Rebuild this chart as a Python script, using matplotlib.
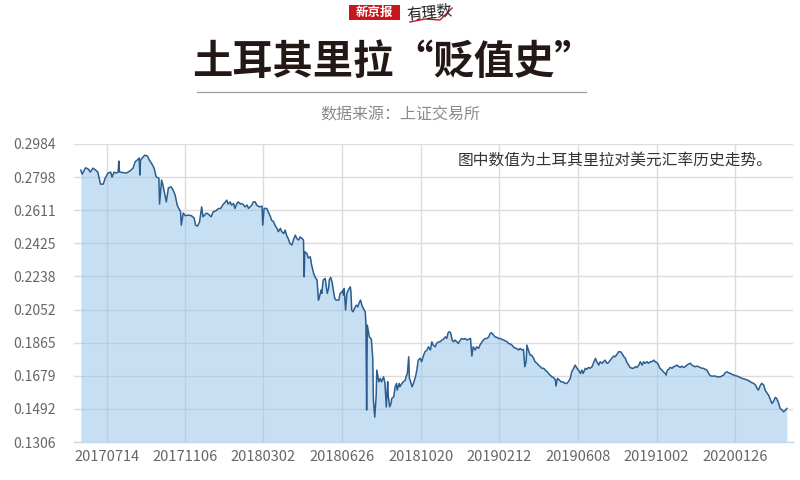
import matplotlib
matplotlib.use("Agg")
import matplotlib.pyplot as plt
import pandas as pd
from matplotlib.lines import Line2D
from matplotlib.patches import Rectangle

plt.rcParams['font.family'] = ['Noto Sans CJK SC', 'DejaVu Sans']

# ---------------- data (TRY / USD exchange rate) ----------------
dates = [
    '2017-06-06', '2017-06-08', '2017-06-13', '2017-06-17', '2017-06-20', '2017-06-24', '2017-06-28', '2017-07-01',
    '2017-07-05', '2017-07-09', '2017-07-12', '2017-07-16', '2017-07-20', '2017-07-22', '2017-07-25', '2017-07-28',
    '2017-07-31', '2017-08-01', '2017-08-02', '2017-08-07', '2017-08-12', '2017-08-17', '2017-08-22', '2017-08-25',
    '2017-08-28', '2017-08-31', '2017-09-01', '2017-09-02', '2017-09-06', '2017-09-08', '2017-09-12', '2017-09-15',
    '2017-09-18', '2017-09-22', '2017-09-25', '2017-09-29', '2017-09-30', '2017-10-03', '2017-10-05', '2017-10-08',
    '2017-10-10', '2017-10-13', '2017-10-17', '2017-10-20', '2017-10-23', '2017-10-26', '2017-10-28', '2017-10-31',
    '2017-11-01', '2017-11-04', '2017-11-07', '2017-11-11', '2017-11-16', '2017-11-20', '2017-11-22', '2017-11-25',
    '2017-11-28', '2017-12-01', '2017-12-03', '2017-12-08', '2017-12-11', '2017-12-15', '2017-12-18', '2017-12-22',
    '2017-12-26', '2017-12-29', '2018-01-01', '2018-01-05', '2018-01-07', '2018-01-09', '2018-01-12', '2018-01-14',
    '2018-01-17', '2018-01-19', '2018-01-22', '2018-01-24', '2018-01-27', '2018-01-29', '2018-02-01', '2018-02-03',
    '2018-02-06', '2018-02-08', '2018-02-10', '2018-02-13', '2018-02-15', '2018-02-18', '2018-02-20', '2018-02-24',
    '2018-02-28', '2018-03-01', '2018-03-03', '2018-03-07', '2018-03-09', '2018-03-12', '2018-03-14', '2018-03-17',
    '2018-03-19', '2018-03-22', '2018-03-24', '2018-03-27', '2018-03-29', '2018-04-01', '2018-04-03', '2018-04-05',
    '2018-04-08', '2018-04-10', '2018-04-13', '2018-04-15', '2018-04-18', '2018-04-20', '2018-04-23', '2018-04-25',
    '2018-04-28', '2018-04-30', '2018-05-01', '2018-05-02', '2018-05-05', '2018-05-07', '2018-05-10', '2018-05-12',
    '2018-05-15', '2018-05-17', '2018-05-20', '2018-05-22', '2018-05-23', '2018-05-26', '2018-05-27', '2018-05-29',
    '2018-06-01', '2018-06-02', '2018-06-04', '2018-06-06', '2018-06-07', '2018-06-09', '2018-06-11', '2018-06-13',
    '2018-06-15', '2018-06-17', '2018-06-21', '2018-06-23', '2018-06-26', '2018-06-27', '2018-06-28', '2018-06-29',
    '2018-07-01', '2018-07-03', '2018-07-05', '2018-07-08', '2018-07-09', '2018-07-10', '2018-07-12', '2018-07-14',
    '2018-07-17', '2018-07-19', '2018-07-21', '2018-07-23', '2018-07-25', '2018-07-27', '2018-07-30', '2018-07-31',
    '2018-08-01', '2018-08-02', '2018-08-05', '2018-08-08', '2018-08-10', '2018-08-11', '2018-08-13', '2018-08-15',
    '2018-08-16', '2018-08-18', '2018-08-19', '2018-08-21', '2018-08-23', '2018-08-26', '2018-08-28', '2018-08-30',
    '2018-09-01', '2018-09-02', '2018-09-04', '2018-09-06', '2018-09-07', '2018-09-10', '2018-09-12', '2018-09-14',
    '2018-09-15', '2018-09-18', '2018-09-19', '2018-09-22', '2018-09-24', '2018-09-27', '2018-09-28', '2018-09-30',
    '2018-10-02', '2018-10-03', '2018-10-04', '2018-10-07', '2018-10-09', '2018-10-12', '2018-10-14', '2018-10-16',
    '2018-10-19', '2018-10-21', '2018-10-24', '2018-10-26', '2018-10-29', '2018-10-31', '2018-11-03', '2018-11-05',
    '2018-11-07', '2018-11-10', '2018-11-12', '2018-11-15', '2018-11-17', '2018-11-20', '2018-11-22', '2018-11-25',
    '2018-11-27', '2018-11-29', '2018-12-01', '2018-12-03', '2018-12-05', '2018-12-07', '2018-12-09', '2018-12-12',
    '2018-12-14', '2018-12-17', '2018-12-19', '2018-12-22', '2018-12-24', '2018-12-27', '2018-12-29', '2019-01-01',
    '2019-01-03', '2019-01-05', '2019-01-08', '2019-01-10', '2019-01-13', '2019-01-15', '2019-01-18', '2019-01-20',
    '2019-01-23', '2019-01-25', '2019-01-28', '2019-01-30', '2019-02-01', '2019-02-04', '2019-02-06', '2019-02-09',
    '2019-02-11', '2019-02-14', '2019-02-16', '2019-02-19', '2019-02-21', '2019-02-24', '2019-02-26', '2019-03-01',
    '2019-03-03', '2019-03-05', '2019-03-08', '2019-03-10', '2019-03-13', '2019-03-15', '2019-03-18', '2019-03-20',
    '2019-03-22', '2019-03-24', '2019-03-25', '2019-03-28', '2019-03-30', '2019-04-01', '2019-04-04', '2019-04-06',
    '2019-04-09', '2019-04-11', '2019-04-14', '2019-04-16', '2019-04-19', '2019-04-21', '2019-04-24', '2019-04-26',
    '2019-04-28', '2019-05-01', '2019-05-03', '2019-05-06', '2019-05-07', '2019-05-09', '2019-05-12', '2019-05-14',
    '2019-05-17', '2019-05-20', '2019-05-23', '2019-05-25', '2019-05-28', '2019-05-30', '2019-06-02', '2019-06-04',
    '2019-06-07', '2019-06-09', '2019-06-12', '2019-06-14', '2019-06-16', '2019-06-19', '2019-06-21', '2019-06-24',
    '2019-06-26', '2019-06-29', '2019-07-01', '2019-07-04', '2019-07-06', '2019-07-09', '2019-07-11', '2019-07-14',
    '2019-07-16', '2019-07-18', '2019-07-21', '2019-07-23', '2019-07-26', '2019-07-28', '2019-07-31', '2019-08-02',
    '2019-08-05', '2019-08-07', '2019-08-10', '2019-08-12', '2019-08-15', '2019-08-17', '2019-08-19', '2019-08-22',
    '2019-08-24', '2019-08-27', '2019-08-29', '2019-09-01', '2019-09-03', '2019-09-06', '2019-09-08', '2019-09-11',
    '2019-09-13', '2019-09-15', '2019-09-18', '2019-09-20', '2019-09-23', '2019-09-25', '2019-09-28', '2019-09-30',
    '2019-10-03', '2019-10-05', '2019-10-07', '2019-10-10', '2019-10-12', '2019-10-15', '2019-10-16', '2019-10-18',
    '2019-10-20', '2019-10-22', '2019-10-25', '2019-10-27', '2019-10-30', '2019-11-01', '2019-11-03', '2019-11-06',
    '2019-11-08', '2019-11-11', '2019-11-13', '2019-11-16', '2019-11-18', '2019-11-21', '2019-11-23', '2019-11-26',
    '2019-11-28', '2019-12-01', '2019-12-03', '2019-12-05', '2019-12-08', '2019-12-10', '2019-12-13', '2019-12-15',
    '2019-12-18', '2019-12-20', '2019-12-23', '2019-12-25', '2019-12-28', '2019-12-30', '2020-01-01', '2020-01-04',
    '2020-01-06', '2020-01-09', '2020-01-11', '2020-01-14', '2020-01-16', '2020-01-19', '2020-01-21', '2020-01-24',
    '2020-01-26', '2020-01-29', '2020-01-31', '2020-02-02', '2020-02-05', '2020-02-07', '2020-02-10', '2020-02-12',
    '2020-02-15', '2020-02-17', '2020-02-20', '2020-02-22', '2020-02-25', '2020-02-27', '2020-02-29', '2020-03-03',
    '2020-03-05', '2020-03-08', '2020-03-10', '2020-03-13', '2020-03-15', '2020-03-18', '2020-03-20', '2020-03-22',
    '2020-03-25', '2020-03-27', '2020-03-30', '2020-04-01', '2020-04-04', '2020-04-06', '2020-04-09', '2020-04-11',
]

rates = [
    0.2837, 0.2814, 0.2850, 0.2843, 0.2826, 0.2848, 0.2837, 0.2826,
    0.2758, 0.2758, 0.2792, 0.2820, 0.2826, 0.2797, 0.2826, 0.2820,
    0.2826, 0.2888, 0.2826, 0.2823, 0.2820, 0.2831, 0.2848, 0.2884,
    0.2893, 0.2905, 0.2809, 0.2893, 0.2912, 0.2921, 0.2917, 0.2893,
    0.2876, 0.2848, 0.2799, 0.2792, 0.2646, 0.2781, 0.2752, 0.2696,
    0.2658, 0.2736, 0.2743, 0.2724, 0.2696, 0.2640, 0.2623, 0.2602,
    0.2527, 0.2595, 0.2580, 0.2584, 0.2580, 0.2567, 0.2527, 0.2522,
    0.2546, 0.2630, 0.2574, 0.2595, 0.2589, 0.2574, 0.2602, 0.2608,
    0.2621, 0.2621, 0.2640, 0.2658, 0.2668, 0.2646, 0.2658, 0.2640,
    0.2649, 0.2621, 0.2649, 0.2658, 0.2646, 0.2649, 0.2640, 0.2630,
    0.2640, 0.2621, 0.2629, 0.2640, 0.2658, 0.2658, 0.2640, 0.2630,
    0.2634, 0.2527, 0.2621, 0.2621, 0.2602, 0.2578, 0.2555, 0.2546,
    0.2527, 0.2509, 0.2490, 0.2509, 0.2490, 0.2480, 0.2499, 0.2471,
    0.2447, 0.2424, 0.2415, 0.2443, 0.2471, 0.2452, 0.2443, 0.2461,
    0.2452, 0.2443, 0.2236, 0.2377, 0.2368, 0.2342, 0.2349, 0.2302,
    0.2255, 0.2236, 0.2218, 0.2105, 0.2115, 0.2161, 0.2143, 0.2218,
    0.2227, 0.2199, 0.2143, 0.2171, 0.2218, 0.2233, 0.2208, 0.2161,
    0.2115, 0.2105, 0.2105, 0.2143, 0.2152, 0.2161, 0.2133, 0.2171,
    0.2049, 0.2143, 0.2161, 0.2180, 0.2143, 0.2049, 0.2039, 0.2058,
    0.2077, 0.2067, 0.2090, 0.2105, 0.2077, 0.2058, 0.2039, 0.1964,
    0.1486, 0.1964, 0.1898, 0.1885, 0.1779, 0.1542, 0.1446, 0.1561,
    0.1711, 0.1664, 0.1645, 0.1664, 0.1645, 0.1673, 0.1636, 0.1503,
    0.1645, 0.1561, 0.1504, 0.1523, 0.1551, 0.1561, 0.1617, 0.1636,
    0.1598, 0.1636, 0.1617, 0.1636, 0.1645, 0.1655, 0.1673, 0.1692,
    0.1786, 0.1664, 0.1655, 0.1617, 0.1636, 0.1673, 0.1711, 0.1767,
    0.1777, 0.1758, 0.1795, 0.1814, 0.1824, 0.1842, 0.1824, 0.1870,
    0.1852, 0.1842, 0.1861, 0.1870, 0.1870, 0.1880, 0.1884, 0.1898,
    0.1889, 0.1921, 0.1927, 0.1918, 0.1880, 0.1870, 0.1880, 0.1870,
    0.1861, 0.1880, 0.1889, 0.1884, 0.1889, 0.1880, 0.1884, 0.1889,
    0.1790, 0.1842, 0.1824, 0.1842, 0.1833, 0.1852, 0.1870, 0.1880,
    0.1889, 0.1889, 0.1898, 0.1918, 0.1921, 0.1908, 0.1898, 0.1895,
    0.1889, 0.1889, 0.1884, 0.1880, 0.1876, 0.1870, 0.1861, 0.1857,
    0.1852, 0.1842, 0.1833, 0.1833, 0.1824, 0.1833, 0.1824, 0.1827,
    0.1730, 0.1758, 0.1852, 0.1814, 0.1795, 0.1795, 0.1777, 0.1758,
    0.1749, 0.1739, 0.1730, 0.1721, 0.1721, 0.1711, 0.1701, 0.1692,
    0.1683, 0.1673, 0.1670, 0.1655, 0.1621, 0.1664, 0.1655, 0.1645,
    0.1645, 0.1636, 0.1636, 0.1645, 0.1664, 0.1701, 0.1721, 0.1739,
    0.1721, 0.1711, 0.1692, 0.1711, 0.1692, 0.1721, 0.1715, 0.1726,
    0.1721, 0.1730, 0.1749, 0.1777, 0.1758, 0.1739, 0.1758, 0.1749,
    0.1758, 0.1767, 0.1749, 0.1752, 0.1767, 0.1777, 0.1790, 0.1786,
    0.1801, 0.1814, 0.1814, 0.1805, 0.1786, 0.1777, 0.1758, 0.1739,
    0.1726, 0.1721, 0.1721, 0.1730, 0.1726, 0.1739, 0.1758, 0.1739,
    0.1758, 0.1749, 0.1758, 0.1749, 0.1758, 0.1758, 0.1767, 0.1758,
    0.1752, 0.1739, 0.1721, 0.1711, 0.1701, 0.1692, 0.1683, 0.1711,
    0.1715, 0.1726, 0.1721, 0.1730, 0.1733, 0.1739, 0.1733, 0.1726,
    0.1733, 0.1726, 0.1730, 0.1739, 0.1745, 0.1749, 0.1739, 0.1733,
    0.1730, 0.1733, 0.1730, 0.1726, 0.1721, 0.1721, 0.1715, 0.1711,
    0.1692, 0.1679, 0.1677, 0.1677, 0.1677, 0.1673, 0.1673, 0.1673,
    0.1677, 0.1683, 0.1696, 0.1701, 0.1696, 0.1692, 0.1687, 0.1683,
    0.1679, 0.1677, 0.1673, 0.1670, 0.1664, 0.1662, 0.1659, 0.1655,
    0.1651, 0.1645, 0.1639, 0.1636, 0.1626, 0.1608, 0.1598, 0.1626,
    0.1636, 0.1626, 0.1598, 0.1580, 0.1570, 0.1542, 0.1523, 0.1532,
    0.1557, 0.1551, 0.1523, 0.1495, 0.1486, 0.1476, 0.1486, 0.1495,
]

y_ticks = [0.1306, 0.1492, 0.1679, 0.1865, 0.2052, 0.2238, 0.2425, 0.2611, 0.2798, 0.2984]
x_tick_dates = ['2017-07-14', '2017-11-06', '2018-03-02', '2018-06-26', '2018-10-20',
                '2019-02-12', '2019-06-08', '2019-10-02', '2020-01-26']
x_tick_labels = ['20170714', '20171106', '20180302', '20180626', '20181020',
                 '20190212', '20190608', '20191002', '20200126']

title_text = '土耳其里拉“贬值史”'
source_text = '数据来源：上证交易所'
note_text = '图中数值为土耳其里拉对美元汇率历史走势。'

# ---------------- figure ----------------
fig = plt.figure(figsize=(8, 4.8), dpi=100)
fig.patch.set_facecolor('white')

ax = fig.add_axes([74 / 800, 1 - 442 / 480, (793 - 74) / 800, (442 - 144) / 480])

x = pd.to_datetime(dates)
ax.fill_between(x, rates, y_ticks[0], color='#91c1e9', alpha=0.5, linewidth=0, zorder=2)
ax.plot(x, rates, color='#2c5d8f', linewidth=1.1, zorder=3)

ax.set_ylim(y_ticks[0], y_ticks[-1])
ax.set_xlim(pd.Timestamp('2017-05-27'), pd.Timestamp('2020-04-20'))

ax.set_yticks(y_ticks)
ax.set_yticklabels([f'{v:.4f}' for v in y_ticks])
ax.set_xticks(pd.to_datetime(x_tick_dates))
ax.set_xticklabels(x_tick_labels)

ax.grid(True, color='#dcdcdc', linewidth=1.0, zorder=1)
ax.set_axisbelow(True)
for s in ['left', 'right', 'top']:
    ax.spines[s].set_visible(False)
ax.spines['bottom'].set_color('#c5d9ee')
ax.spines['bottom'].set_linewidth(1.0)

ax.tick_params(axis='y', length=0, pad=44, labelsize=10, labelcolor='#666666')
ax.tick_params(axis='x', length=0, pad=6, labelsize=10.5, labelcolor='#666666')
for lbl in ax.get_yticklabels():
    lbl.set_horizontalalignment('left')

# note inside the plot
fig.text(458 / 800, 1 - 160 / 480, note_text, fontsize=11.3, color='#333333',
         ha='left', va='center')

# title
fig.text(393 / 800, 1 - 62 / 480, title_text, fontsize=29, fontweight='bold',
         color='#231815', ha='center', va='center')
fig.add_artist(Line2D([197 / 800, 586 / 800], [1 - 92 / 480, 1 - 92 / 480],
                      color='#9a9a9a', linewidth=0.9))
fig.text(400 / 800, 1 - 115 / 480, source_text, fontsize=11.5, color='#8a8a8a',
         ha='center', va='center')

# logo
fig.add_artist(Rectangle((349 / 800, 1 - 20 / 480), 51 / 800, 15 / 480,
                         facecolor='#c8161d', edgecolor='none'))
fig.text(374.5 / 800, 1 - 12.5 / 480, '新京报', fontsize=9, fontweight='bold',
         color='white', ha='center', va='center')
fig.text(430 / 800, 1 - 13 / 480, '有理数', fontsize=11, style='italic',
         color='#222222', ha='center', va='center', rotation=6)
fig.add_artist(Line2D([410 / 800, 425 / 800, 440 / 800, 452 / 800],
                      [1 - 22 / 480, 1 - 19 / 480, 1 - 20 / 480, 1 - 8 / 480],
                      color='#c8161d', linewidth=1.0))

fig.savefig('out.png', dpi=100, facecolor='white')
